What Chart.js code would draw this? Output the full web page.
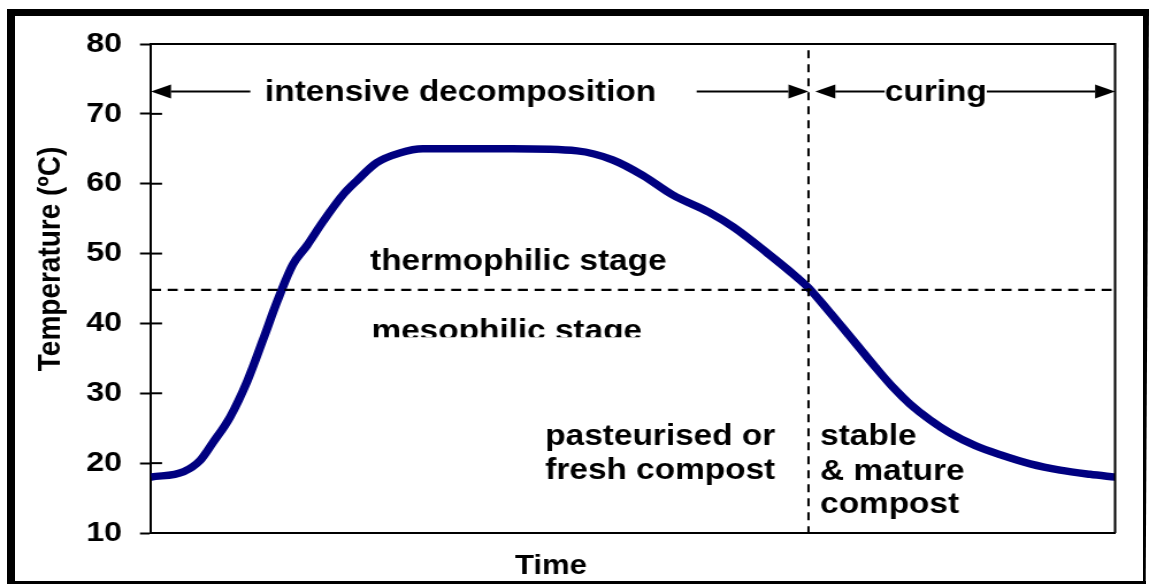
<!DOCTYPE html>
<html><head><meta charset="utf-8">
<script src="https://cdn.jsdelivr.net/npm/chart.js@4.4.1/dist/chart.umd.min.js"></script>
<style>
html,body{margin:0;padding:0;background:#fff;overflow:hidden;}
#stage{position:relative;width:1149px;height:585px;overflow:hidden;background:#fff;}
#wrap{position:absolute;left:0;top:0;width:999px;height:585px;transform:scaleX(1.15015);transform-origin:0 0;}
.bar{position:absolute;background:#000;}
</style></head><body>
<div id="stage">
  <div id="wrap"><canvas id="c"></canvas></div>
  <div class="bar" style="left:7px;top:9px;width:8px;height:575px"></div>
  <div class="bar" style="left:7px;top:9px;width:1142px;height:7px"></div>
  <div class="bar" style="left:1143px;top:9px;width:6px;height:575px;clip-path:polygon(0 0,100% 0,45% 100%,0 100%)"></div>
  <div class="bar" style="left:7px;top:581px;width:1139px;height:3px"></div>
</div>
<script>
const FONT = "'Liberation Sans', Arial, Helvetica, sans-serif";

// ---- data (time in % of process, temperature in °C) ----
const timeX = [0, 3.4, 5.1, 6.4, 8.2, 10.0, 11.6, 13.1, 14.7, 16.2, 17.8, 19.9, 21.4, 23.4, 25.8, 28.2, 31.0, 37.5, 44.2, 47.9, 51.0, 54.1, 57.9, 60.4, 63.9, 67.0, 68.2, 70.4, 73.0, 75.1, 77.0, 78.7, 80.8, 82.9, 85.5, 88.1, 91.2, 94.3, 97.4, 100];
const temperature = [18.0, 18.8, 20.4, 22.9, 26.6, 31.8, 37.6, 43.2, 48.4, 51.2, 54.5, 58.4, 60.5, 63.0, 64.4, 65.0, 65.0, 65.0, 64.7, 63.4, 61.2, 58.4, 55.9, 53.8, 50.1, 46.6, 45.1, 41.6, 37.3, 33.8, 30.8, 28.5, 26.2, 24.3, 22.5, 21.2, 19.9, 19.0, 18.4, 18.0];
const yTicks = [10, 20, 30, 40, 50, 60, 70, 80];
const stageBoundaryTemp = 44.8;
const curingStartTime = 68.2;
const yTitle = 'Temperature (ºC)';
const xTitle = 'Time';

// ---- annotation layout (data coordinates) ----
const notes = [
  {text:'intensive decomposition', x:32.1, y:71.84, align:'center'},
  {text:'curing', x:81.4, y:71.84, align:'center'},
  {text:'thermophilic stage', x:38.1, y:47.7, align:'center'},
  {text:'mesophilic stage', x:36.9, y:37.63, align:'center', clipAt:38.01},
  {text:'pasteurised or', x:40.9, y:22.60, align:'left'},
  {text:'fresh compost', x:40.9, y:17.73, align:'left'},
  {text:'stable', x:69.4, y:22.60, align:'left'},
  {text:'& mature', x:69.4, y:17.59, align:'left'},
  {text:'compost', x:69.4, y:12.86, align:'left'}
];
const arrows = [
  {from:10.3, to:0, y:73.2},
  {from:56.6, to:68.2, y:73.2},
  {from:76.1, to:68.9, y:73.2},
  {from:86.7, to:100, y:73.2}
];

const overlay = {
  id:'overlay',
  afterDatasetsDraw(chart){
    const {ctx, chartArea:a, scales:{x, y}} = chart;
    ctx.save();
    ctx.strokeStyle = '#000'; ctx.fillStyle = '#000'; ctx.lineWidth = 2;
    // plot frame (top & right)
    ctx.beginPath();
    ctx.moveTo(a.left, a.top); ctx.lineTo(a.right, a.top); ctx.lineTo(a.right, a.bottom);
    ctx.stroke();
    // inward tick marks
    yTicks.forEach(v => {
      const py = y.getPixelForValue(v);
      ctx.beginPath(); ctx.moveTo(a.left, py); ctx.lineTo(a.left + 9.6, py); ctx.stroke();
    });
    // dashed stage boundary
    ctx.lineWidth = 2.3;
    ctx.setLineDash([8.7, 5.8]);
    const hy = y.getPixelForValue(stageBoundaryTemp);
    ctx.beginPath(); ctx.moveTo(a.left, hy); ctx.lineTo(a.right, hy); ctx.stroke();
    // dashed curing boundary
    ctx.lineWidth = 2;
    ctx.setLineDash([8, 6]);
    const vx = x.getPixelForValue(curingStartTime);
    ctx.beginPath(); ctx.moveTo(vx, y.getPixelForValue(79.1)); ctx.lineTo(vx, a.bottom); ctx.stroke();
    ctx.setLineDash([]);
    // arrows
    arrows.forEach(ar => {
      const p0 = x.getPixelForValue(ar.from), p1 = x.getPixelForValue(ar.to), py = y.getPixelForValue(ar.y);
      const dir = Math.sign(p1 - p0), hl = 17.4, hw = 7;
      ctx.beginPath(); ctx.moveTo(p0, py); ctx.lineTo(p1 - dir*hl, py); ctx.stroke();
      ctx.beginPath(); ctx.moveTo(p1, py); ctx.lineTo(p1 - dir*hl, py - hw); ctx.lineTo(p1 - dir*hl, py + hw); ctx.closePath(); ctx.fill();
    });
    // notes
    ctx.font = `bold 29px ${FONT}`;
    ctx.textBaseline = 'alphabetic';
    notes.forEach(n => {
      ctx.save();
      if (n.clipAt !== undefined) {
        ctx.beginPath(); ctx.rect(0, 0, chart.width, y.getPixelForValue(n.clipAt)); ctx.clip();
      }
      ctx.textAlign = n.align;
      ctx.fillText(n.text, x.getPixelForValue(n.x), y.getPixelForValue(n.y));
      ctx.restore();
    });
    // axis titles
    ctx.font = `bold 28px ${FONT}`;
    ctx.save();
    ctx.translate(52.2, 259); ctx.rotate(-Math.PI/2);
    ctx.textAlign = 'center'; ctx.fillText(yTitle, 0, 0);
    ctx.restore();
    ctx.font = `bold 27px ${FONT}`;
    ctx.textAlign = 'center';
    ctx.fillText(xTitle, 479.1, 574);
    ctx.restore();
  }
};

new Chart(document.getElementById('c'), {
  type:'line',
  data:{datasets:[{
    data: timeX.map((t, i) => ({x:t, y:temperature[i]})),
    borderColor:'#000080', borderWidth:7.5, pointRadius:0, fill:false,
    cubicInterpolationMode:'monotone', borderJoinStyle:'round'
  }]},
  options:{
    responsive:true, maintainAspectRatio:false, animation:false,
    layout:{padding:{left:0, right:29.5, top:44, bottom:0}},
    plugins:{legend:{display:false}, tooltip:{enabled:false}},
    scales:{
      x:{type:'linear', min:0, max:100,
         ticks:{display:false}, grid:{display:false},
         border:{display:true, color:'#000', width:2},
         afterFit(s){ s.height = 52; }},
      y:{type:'linear', min:10, max:80, position:'left',
         afterBuildTicks(s){ s.ticks = yTicks.map(v => ({value:v})); },
         ticks:{color:'#000', font:{family:FONT, size:28, weight:'bold'}, padding:15.6},
         grid:{display:true, drawOnChartArea:false, drawTicks:true, tickLength:9.6, tickWidth:2, tickColor:'#000'},
         border:{display:true, color:'#000', width:2},
         afterFit(s){ s.width = 131.3; }}
    }
  },
  plugins:[overlay]
});
</script>
</body></html>
